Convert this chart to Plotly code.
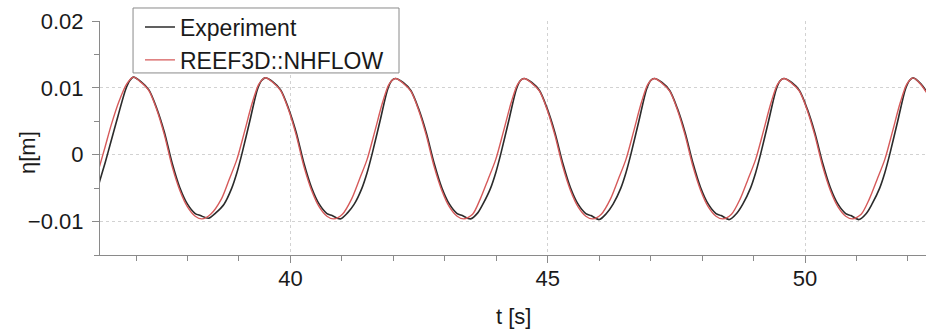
import plotly.graph_objects as go

# Experiment series (time in s, surface elevation in m)
t_exp = [36.25, 36.30, 36.40, 36.50, 36.65, 36.80, 36.88, 36.95,
         37.10, 37.25, 37.40, 37.55, 37.70, 37.85, 38.00, 38.15, 38.25, 38.41, 38.55,
         38.71, 38.86, 38.96, 39.06, 39.21, 39.36, 39.44, 39.51,
         39.66, 39.81, 39.96, 40.11, 40.26, 40.41, 40.56, 40.71, 40.81, 40.97, 41.11,
         41.24, 41.39, 41.49, 41.59, 41.74, 41.89, 41.97, 42.04,
         42.19, 42.34, 42.49, 42.64, 42.79, 42.94, 43.09, 43.24, 43.34, 43.50, 43.64,
         43.74, 43.89, 43.99, 44.09, 44.24, 44.39, 44.47, 44.54,
         44.69, 44.84, 44.99, 45.14, 45.29, 45.44, 45.59, 45.74, 45.84, 46.00, 46.14,
         46.27, 46.42, 46.52, 46.62, 46.77, 46.92, 47.00, 47.07,
         47.22, 47.37, 47.52, 47.67, 47.82, 47.97, 48.12, 48.27, 48.37, 48.53, 48.67,
         48.79, 48.94, 49.04, 49.14, 49.29, 49.44, 49.52, 49.59,
         49.74, 49.89, 50.04, 50.19, 50.34, 50.49, 50.64, 50.79, 50.89, 51.05, 51.19,
         51.30, 51.45, 51.55, 51.65, 51.80, 51.95, 52.03, 52.10,
         52.25, 52.40]
eta_exp = [-0.0052, -0.0038, -0.0012, 0.0016, 0.0058, 0.0098, 0.0111, 0.0116,
           0.0109, 0.0097, 0.0070, 0.0034, -0.0012, -0.0049, -0.0074, -0.0088, -0.0091, -0.0095, -0.0087,
           -0.0074, -0.0050, -0.0027, 0.0002, 0.0050, 0.0098, 0.0111, 0.0115,
           0.0109, 0.0097, 0.0070, 0.0034, -0.0012, -0.0049, -0.0074, -0.0088, -0.0091, -0.0096, -0.0087,
           -0.0074, -0.0050, -0.0027, 0.0002, 0.0050, 0.0098, 0.0111, 0.0114,
           0.0108, 0.0096, 0.0069, 0.0033, -0.0012, -0.0049, -0.0074, -0.0088, -0.0091, -0.0096, -0.0087,
           -0.0074, -0.0050, -0.0027, 0.0002, 0.0050, 0.0098, 0.0111, 0.0114,
           0.0108, 0.0096, 0.0069, 0.0033, -0.0012, -0.0049, -0.0074, -0.0088, -0.0091, -0.0097, -0.0088,
           -0.0074, -0.0050, -0.0027, 0.0002, 0.0050, 0.0098, 0.0111, 0.0114,
           0.0108, 0.0096, 0.0069, 0.0033, -0.0012, -0.0049, -0.0074, -0.0088, -0.0091, -0.0097, -0.0088,
           -0.0074, -0.0050, -0.0027, 0.0002, 0.0050, 0.0098, 0.0111, 0.0114,
           0.0108, 0.0096, 0.0069, 0.0033, -0.0012, -0.0049, -0.0074, -0.0088, -0.0091, -0.0097, -0.0088,
           -0.0074, -0.0050, -0.0027, 0.0002, 0.0050, 0.0098, 0.0111, 0.0115,
           0.0106, 0.0090]

# REEF3D::NHFLOW series
t_num = [36.25, 36.30, 36.40, 36.52, 36.67, 36.82, 36.95,
         37.10, 37.25, 37.40, 37.55, 37.70, 37.85, 38.00, 38.15, 38.28, 38.45,
         38.66, 38.81, 38.96, 39.11, 39.26, 39.39, 39.51,
         39.66, 39.81, 39.96, 40.11, 40.26, 40.41, 40.56, 40.71, 40.84, 41.01,
         41.19, 41.34, 41.49, 41.64, 41.79, 41.92, 42.04,
         42.19, 42.34, 42.49, 42.64, 42.79, 42.94, 43.09, 43.24, 43.37, 43.54,
         43.69, 43.84, 43.99, 44.14, 44.29, 44.42, 44.54,
         44.69, 44.84, 44.99, 45.14, 45.29, 45.44, 45.59, 45.74, 45.87, 46.04,
         46.22, 46.37, 46.52, 46.67, 46.82, 46.95, 47.07,
         47.22, 47.37, 47.52, 47.67, 47.82, 47.97, 48.12, 48.27, 48.40, 48.57,
         48.74, 48.89, 49.04, 49.19, 49.34, 49.47, 49.59,
         49.74, 49.89, 50.04, 50.19, 50.34, 50.49, 50.64, 50.79, 50.92, 51.09,
         51.25, 51.40, 51.55, 51.70, 51.85, 51.98, 52.10,
         52.25, 52.40]
eta_num = [-0.0028, -0.0015, 0.0012, 0.0045, 0.0080, 0.0106, 0.0116,
           0.0108, 0.0096, 0.0068, 0.0030, -0.0017, -0.0053, -0.0078, -0.0092, -0.0096, -0.0089,
           -0.0066, -0.0037, -0.0007, 0.0035, 0.0078, 0.0106, 0.0115,
           0.0108, 0.0096, 0.0068, 0.0030, -0.0017, -0.0053, -0.0078, -0.0092, -0.0096, -0.0089,
           -0.0066, -0.0037, -0.0007, 0.0035, 0.0078, 0.0106, 0.0114,
           0.0107, 0.0095, 0.0067, 0.0029, -0.0017, -0.0053, -0.0078, -0.0092, -0.0096, -0.0089,
           -0.0066, -0.0037, -0.0007, 0.0035, 0.0078, 0.0106, 0.0114,
           0.0107, 0.0095, 0.0067, 0.0029, -0.0017, -0.0053, -0.0078, -0.0092, -0.0096, -0.0089,
           -0.0066, -0.0037, -0.0007, 0.0035, 0.0078, 0.0106, 0.0114,
           0.0107, 0.0095, 0.0067, 0.0029, -0.0017, -0.0053, -0.0078, -0.0092, -0.0096, -0.0089,
           -0.0066, -0.0037, -0.0007, 0.0035, 0.0078, 0.0106, 0.0114,
           0.0107, 0.0095, 0.0067, 0.0029, -0.0017, -0.0053, -0.0078, -0.0092, -0.0096, -0.0089,
           -0.0066, -0.0037, -0.0007, 0.0035, 0.0078, 0.0106, 0.0115,
           0.0105, 0.0088]

series_names = ["Experiment", "REEF3D::NHFLOW"]
x_range = [36.3, 52.35]
y_range = [-0.015, 0.02]

FONT = "Liberation Sans, Arial, Helvetica, sans-serif"

fig = go.Figure()
fig.add_trace(go.Scatter(x=t_exp, y=eta_exp, mode="lines", name=series_names[0],
                         line=dict(color="#2b2b2b", width=1.6, shape="spline", smoothing=0.8)))
fig.add_trace(go.Scatter(x=t_num, y=eta_num, mode="lines", name=series_names[1],
                         line=dict(color="#d65a5a", width=1.4, shape="spline", smoothing=0.8)))

axis_common = dict(
    showline=True, linecolor="#8a8a8a", linewidth=1.2,
    ticks="outside", ticklen=7, tickcolor="#8a8a8a", tickwidth=1.2,
    showgrid=True, gridcolor="#d2d2d2", griddash="dot", gridwidth=1.2,
    zeroline=False, automargin=False,
    tickfont=dict(family=FONT, size=22, color="#1a1a1a"),
)

fig.update_xaxes(range=x_range, tick0=0, dtick=5, ticklabelstandoff=-4,
                 minor=dict(dtick=1, ticks="outside", ticklen=5, tickcolor="#8a8a8a", showgrid=False),
                 **axis_common)
fig.update_yaxes(range=y_range, tick0=0, dtick=0.01, ticklabelstandoff=4,
                 minor=dict(dtick=0.005, ticks="outside", ticklen=5, tickcolor="#8a8a8a", showgrid=False),
                 **axis_common)

fig.update_layout(
    width=926, height=334,
    margin=dict(l=100, r=0, t=21, b=79, pad=0),
    paper_bgcolor="white", plot_bgcolor="white",
    font=dict(family=FONT, size=22, color="#1a1a1a"),
    showlegend=True,
    legend=dict(x=0.0484, y=1.066, xanchor="left", yanchor="top",
                bgcolor="rgba(0,0,0,0)", borderwidth=0,
                font=dict(family=FONT, size=23, color="#1a1a1a"),
                tracegroupgap=0),
    shapes=[
        dict(type="rect", xref="paper", yref="paper",
             x0=0.040, x1=0.362, y0=0.778, y1=1.0556,
             line=dict(color="#8a8a8a", width=1), fillcolor="white", layer="above"),
    ],
    annotations=[
        dict(text="t [s]", xref="paper", yref="paper", x=0.5, y=-0.262,
             xanchor="center", yanchor="middle", showarrow=False,
             font=dict(family=FONT, size=22, color="#1a1a1a")),
        dict(text="η[m]", xref="paper", yref="paper", x=-0.0884, y=0.44,
             xanchor="center", yanchor="middle", showarrow=False, textangle=-90,
             font=dict(family=FONT, size=22, color="#1a1a1a")),
    ],
)

# Remove the page's default body margin so the figure sits at the window's top-left corner.
fig.write_html("out.html",
               config={"displayModeBar": False},
               post_script="document.body.style.margin='0';document.body.style.overflow='hidden';")
